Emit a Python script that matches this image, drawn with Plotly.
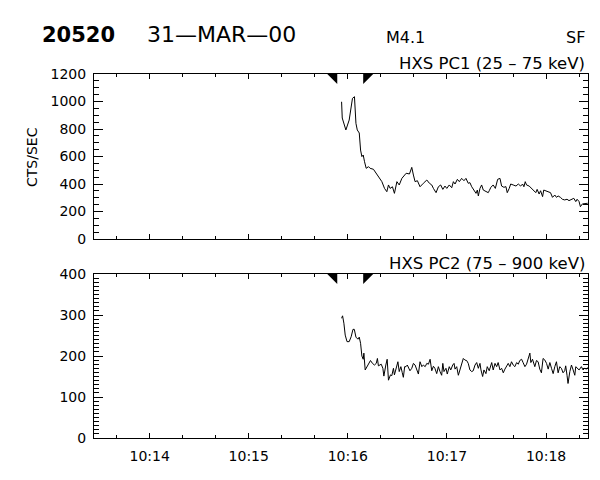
import pandas as pd
import plotly.graph_objects as go

# HXS count rates, seconds after 10:14:00 UT on 31-MAR-00
pc1_sec = [116.2, 116.6, 118.8, 120.1, 120.8, 122.8, 124.0, 124.9, 125.7, 126.9, 127.7, 128.5, 129.3, 130.1,
           131.1, 132.5, 133.5, 135.5, 136.5, 138.2, 139.6, 140.6, 142.2, 143.6, 144.6, 145.6, 147.0, 148.2,
           149.7, 151.1, 152.7, 154.1, 155.3, 157.3, 158.7, 159.7, 160.7, 162.1, 163.7, 165.7, 167.8, 169.4,
           170.8, 171.8, 173.4, 174.8, 176.2, 177.5, 178.8, 179.9, 181.4, 182.9, 183.9, 184.9, 186.3, 187.5,
           188.9, 190.3, 191.5, 192.9, 193.9, 195.0, 196.4, 197.6, 198.4, 199.0, 200.0, 201.0, 202.0, 203.6,
           205.0, 205.6, 206.6, 208.0, 209.3, 210.7, 212.1, 213.1, 214.5, 215.7, 216.5, 217.7, 218.6, 220.1,
           221.8, 223.2, 224.6, 225.8, 226.6, 227.4, 228.2, 229.8, 231.2, 232.6, 233.8, 234.6, 235.8, 236.7,
           237.9, 238.6, 239.9, 241.3, 242.7, 243.9, 245.3, 246.3, 247.3, 248.7, 249.9, 251.3, 252.7, 253.9,
           255.4, 256.8, 258.0, 258.8, 260.0, 260.8, 262.0, 263.4, 265.2]
pc1_cts = [998, 880, 793, 853, 865, 1023, 1035, 841, 793, 771, 647, 599, 611, 562,
           514, 526, 514, 507, 490, 458, 441, 417, 368, 344, 393, 368, 380, 332,
           417, 393, 441, 465, 478, 473, 521, 465, 417, 424, 380, 405, 429, 405,
           393, 368, 337, 380, 393, 361, 385, 368, 393, 373, 417, 400, 434, 417,
           441, 424, 441, 405, 410, 380, 351, 332, 356, 313, 368, 393, 356, 344,
           337, 351, 376, 393, 368, 434, 441, 385, 376, 381, 337, 368, 400, 393,
           385, 400, 385, 400, 380, 417, 393, 385, 368, 356, 337, 361, 327, 351,
           308, 356, 351, 344, 337, 303, 320, 303, 313, 303, 289, 284, 289, 279,
           289, 296, 272, 289, 272, 235, 255, 255, 260]

pc2_sec = [116.2, 116.8, 117.6, 118.4, 119.5, 120.8, 122.0, 123.1, 123.9, 124.9, 126.1, 126.9, 127.7, 128.5,
           129.3, 129.7, 130.5, 132.1, 133.7, 134.9, 136.1, 137.2, 137.9, 138.5, 140.2, 141.2, 141.8, 143.0,
           143.8, 144.6, 145.8, 146.6, 147.6, 148.2, 149.2, 150.3, 151.1, 152.1, 152.9, 153.6, 154.4, 155.2,
           156.0, 157.6, 158.7, 159.7, 160.7, 161.7, 162.7, 163.7, 164.8, 165.7, 166.8, 167.8, 168.8, 169.8,
           170.8, 171.8, 172.7, 173.8, 174.8, 175.8, 176.8, 177.5, 178.2, 179.4, 180.2, 181.4, 182.3, 183.5,
           184.3, 184.9, 185.9, 186.9, 187.9, 188.9, 189.9, 190.9, 191.9, 192.9, 193.9, 195.0, 195.9, 197.0,
           198.0, 199.0, 200.0, 200.6, 201.6, 202.4, 203.6, 204.4, 205.6, 207.1, 208.0, 209.1, 210.1, 211.0,
           212.1, 213.1, 214.1, 215.1, 216.1, 217.1, 218.1, 219.1, 220.1, 221.1, 222.2, 223.2, 224.1, 225.2,
           226.1, 227.2, 228.2, 229.2, 230.2, 230.8, 231.8, 233.2, 234.2, 235.2, 236.2, 237.2, 238.2, 239.3,
           240.3, 241.3, 242.3, 243.3, 244.3, 245.3, 246.3, 247.3, 248.3, 249.3, 250.3, 251.3, 251.9, 252.7,
           253.3, 254.4, 255.4, 256.4, 257.4, 258.0, 258.8, 260.0, 261.4, 262.4, 263.4, 264.5, 265.2]
pc2_cts = [292, 298, 280, 251, 235, 235, 247, 265, 265, 246, 241, 246, 231, 200,
           192, 207, 166, 178, 189, 182, 178, 182, 194, 176, 180, 170, 151, 178,
           192, 141, 154, 152, 170, 154, 170, 186, 162, 174, 160, 148, 174, 174,
           178, 164, 170, 182, 178, 168, 156, 186, 174, 178, 174, 182, 180, 192,
           164, 175, 170, 157, 174, 162, 153, 182, 162, 170, 156, 174, 166, 178,
           182, 168, 174, 153, 166, 178, 194, 190, 189, 182, 166, 162, 164, 178,
           184, 170, 182, 166, 150, 166, 157, 174, 164, 184, 166, 182, 174, 184,
           166, 170, 159, 168, 174, 182, 174, 186, 178, 174, 184, 180, 189, 192,
           184, 174, 180, 192, 207, 184, 192, 174, 189, 186, 168, 159, 194, 190,
           182, 168, 184, 170, 157, 174, 186, 159, 174, 170, 159, 164, 176, 153,
           133, 162, 178, 166, 153, 174, 170, 166, 174, 166, 170, 168, 172]

# flare start / end markers (seconds after 10:14:00)
flare_marks = [113.6, 129.3]

T0 = pd.Timestamp("2000-03-31 10:14:00")


def to_time(sec):
    return T0 + pd.to_timedelta(sec, unit="s")


x_range = [to_time(-33.7), to_time(265.4)]
FONT = "DejaVu Sans"

fig = go.Figure()
fig.add_trace(go.Scatter(x=to_time(pc1_sec), y=pc1_cts, mode="lines",
                         line=dict(color="black", width=1), xaxis="x", yaxis="y"))
fig.add_trace(go.Scatter(x=to_time(pc2_sec), y=pc2_cts, mode="lines",
                         line=dict(color="black", width=1), xaxis="x2", yaxis="y2"))

xcommon = dict(type="date", range=x_range, showgrid=False, zeroline=False, automargin=False,
               showline=True, linecolor="black", linewidth=1, mirror="allticks",
               ticks="inside", ticklen=5, tickcolor="black", dtick=60000,
               tick0="2000-03-31 10:14:00", tickformat="%H:%M",
               minor=dict(ticks="inside", ticklen=3, dtick=20000, tickcolor="black", showgrid=False),
               tickfont=dict(family=FONT, size=14, color="black"))
ycommon = dict(showgrid=False, zeroline=False, automargin=False, showline=True, linecolor="black",
               linewidth=1, mirror="allticks", ticks="inside", ticklen=9, tickcolor="black",
               tickfont=dict(family=FONT, size=14, color="black"), ticklabelstandoff=4)

fig.update_layout(
    width=600, height=480, margin=dict(l=0, r=0, t=0, b=0, pad=0),
    template="none",
    paper_bgcolor="white", plot_bgcolor="white", showlegend=False,
    xaxis=dict(xcommon, domain=[94 / 600, 588 / 600], anchor="y", showticklabels=False),
    xaxis2=dict(xcommon, domain=[94 / 600, 588 / 600], anchor="y2", matches="x", ticklabelstandoff=5),
    yaxis=dict(ycommon, domain=[1 - 239 / 480, 1 - 74 / 480], anchor="x", range=[0, 1200], dtick=200,
               minor=dict(ticks="inside", ticklen=5, dtick=50, tickcolor="black", showgrid=False)),
    yaxis2=dict(ycommon, domain=[1 - 438 / 480, 1 - 274 / 480], anchor="x2", range=[0, 400], dtick=100,
                minor=dict(ticks="inside", ticklen=5, dtick=10, tickcolor="black", showgrid=False)),
)

# triangles at top of each panel
paths = ["M -10,0 L 0,0 L 0,-10 Z", "M 0,0 L 10,0 L 0,-10 Z"]
for xr, yr in [("x", "y domain"), ("x2", "y2 domain")]:
    for t, p in zip(flare_marks, paths):
        fig.add_shape(type="path", xref=xr, yref=yr, xsizemode="pixel", ysizemode="pixel",
                      xanchor=to_time(t), yanchor=1, path=p,
                      fillcolor="black", line=dict(color="black", width=0))


def txt(x, y, s, size, xanchor="left", yanchor="middle", angle=0, bold=False):
    fig.add_annotation(x=x / 600, y=1 - y / 480, xref="paper", yref="paper", text=s,
                       showarrow=False, xanchor=xanchor, yanchor=yanchor, textangle=angle,
                       font=dict(family=FONT, size=size, color="black",
                                 weight="bold" if bold else "normal"))


txt(40, 35, "20520", 21, bold=True)
txt(145, 35, "31—MAR—00", 22)
txt(384, 37, "M4.1", 16)
txt(587, 37, "SF", 16, xanchor="right")
txt(587, 75, "HXS PC1 (25 – 75 keV)", 16.5, xanchor="right", yanchor="bottom")
txt(587, 275, "HXS PC2 (75 – 900 keV)", 16.5, xanchor="right", yanchor="bottom")
txt(32, 157, "CTS/SEC", 14, xanchor="center", angle=-90)

fig.write_html("out.html", post_script="document.body.style.margin='0';",
               config={"displayModeBar": False})
